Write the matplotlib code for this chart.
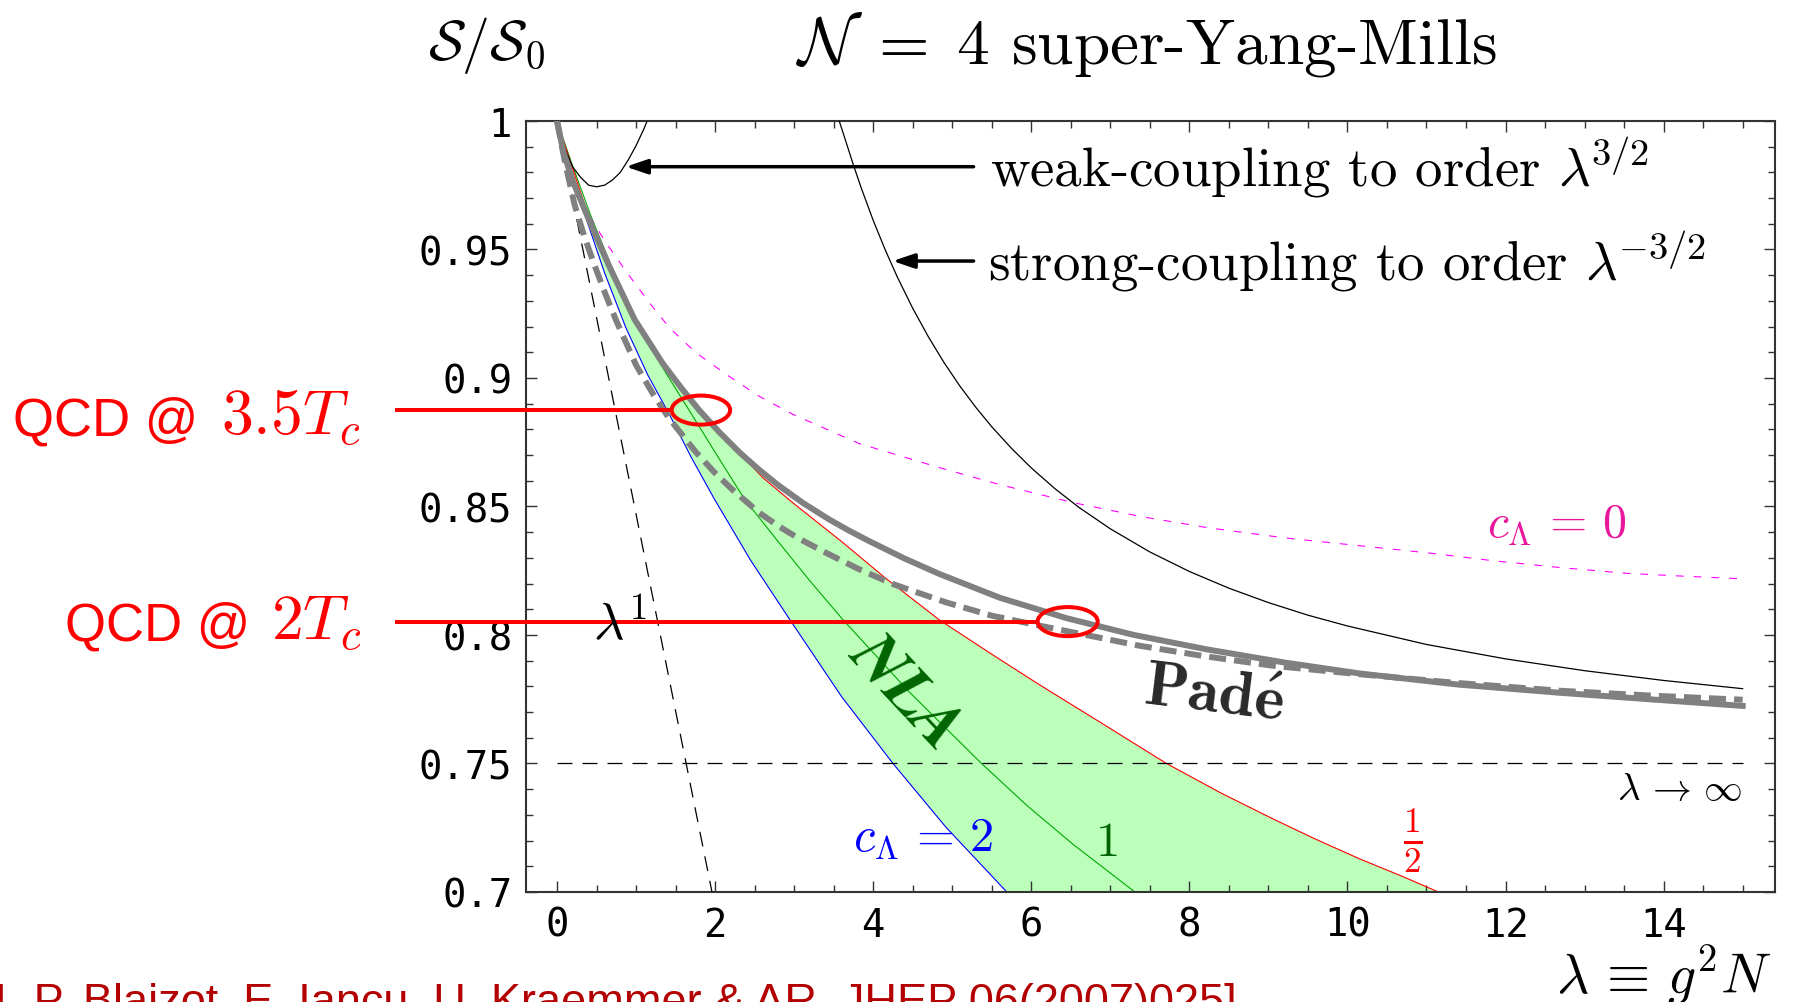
import numpy as np
import matplotlib.pyplot as plt
from matplotlib.patches import Ellipse
from matplotlib.ticker import MultipleLocator, FuncFormatter

plt.rcParams['mathtext.fontset'] = 'cm'
plt.rcParams['font.family'] = 'DejaVu Sans Mono'

# weak coupling expansion to order lambda^(3/2)
weak_x = [0, 0.1, 0.2, 0.3, 0.4, 0.5, 0.6, 0.7, 0.8, 0.9, 1.0, 1.1, 1.14]
weak_y = [1.0, 0.989, 0.982, 0.978, 0.975, 0.9744, 0.975, 0.977, 0.980, 0.9848, 0.9904, 0.997, 1.0]

# first order (lambda^1) straight line
lin_x = [0, 1.96]
lin_y = [1.0, 0.70]

# strong coupling expansion to order lambda^(-3/2)
strong_x = [3.57, 3.65, 3.75, 3.85, 4.0, 4.15, 4.3, 4.5, 4.7, 4.9, 5.1, 5.3, 5.5, 5.75, 6.0,
            6.3, 6.6, 7.0, 7.5, 8.0, 8.5, 9.0, 9.5, 10.0, 11.0, 12.0, 13.0, 14.0, 15.0]
strong_y = [1.0, 0.9924, 0.9828, 0.9738, 0.9613, 0.9500, 0.9396, 0.9271, 0.9159, 0.9058,
            0.8967, 0.8885, 0.8810, 0.8726, 0.8650, 0.8569, 0.8497, 0.8413, 0.8323, 0.8247,
            0.8182, 0.8126, 0.8077, 0.8035, 0.7963, 0.7907, 0.7861, 0.7823, 0.7791]

# Pade resummations (solid and dashed)
pade_x = [0, 0.08, 0.2, 0.39, 0.66, 0.98, 1.34, 1.57, 1.80, 2.05, 2.31, 2.56, 2.81, 3.12,
          3.44, 3.7, 3.95, 4.4, 4.84, 5.6, 6.45, 7.3, 8.22, 9.2, 10.16, 11.4, 12.69, 13.9, 15.0]
pade_y = [1.0, 0.988, 0.9765, 0.9625, 0.9435, 0.9228, 0.9055, 0.8962, 0.8874, 0.8790, 0.8710,
          0.8642, 0.8580, 0.8512, 0.8450, 0.8405, 0.8365, 0.8297, 0.8237, 0.8145, 0.8065,
          0.8000, 0.7944, 0.7893, 0.7850, 0.7807, 0.7775, 0.7748, 0.7724]
pade2_x = [0, 0.1, 0.22, 0.34, 0.47, 0.61, 0.75, 1.0, 1.21, 1.42, 1.76, 1.99, 2.22, 2.56,
           2.81, 3.06, 3.40, 3.82, 4.25, 4.92, 5.5, 6.11, 7.37, 8.2, 9.06, 10.16, 11.4,
           12.69, 13.85, 15.0]
pade2_y = [1.0, 0.984, 0.9676, 0.9555, 0.9442, 0.9328, 0.9222, 0.905, 0.8940, 0.8842, 0.8710,
           0.8633, 0.8565, 0.8475, 0.8422, 0.8375, 0.8320, 0.8256, 0.8198, 0.8127, 0.8075,
           0.8036, 0.7958, 0.7917, 0.7880, 0.7847, 0.7813, 0.7783, 0.7764, 0.7748]

# NLA with c_Lambda = 0
c0_x = [0.41, 0.6, 0.87, 1.15, 1.42, 1.75, 2.14, 2.55, 2.98, 3.82, 4.84, 5.6, 6.53, 7.4, 8.22,
        9.2, 10.16, 11.0, 11.84, 12.7, 13.53, 14.3, 15.04]
c0_y = [0.963, 0.9535, 0.9416, 0.930, 0.9196, 0.910, 0.9014, 0.893, 0.8859, 0.8745, 0.8651,
        0.8585, 0.8515, 0.846, 0.8418, 0.8378, 0.8347, 0.832, 0.8289, 0.8262, 0.8240,
        0.8228, 0.8218]

# NLA with c_Lambda = 2, 1, 1/2
c2_x = [0, 0.15, 0.35, 0.6, 0.87, 1.15, 1.42, 1.7, 1.99, 2.45, 2.94, 3.6, 4.25, 4.92, 5.69]
c2_y = [1.0, 0.984, 0.9637, 0.941, 0.9196, 0.901, 0.8859, 0.869, 0.8529, 0.829, 0.8062,
        0.776, 0.750, 0.7252, 0.700]
c1_x = [0, 0.18, 0.42, 0.72, 1.04, 1.38, 1.72, 2.05, 2.37, 2.79, 3.2, 3.61, 4.45, 5.37, 5.95,
        6.53, 7.31]
c1_y = [1.0, 0.984, 0.9637, 0.941, 0.9196, 0.9018, 0.8850, 0.8686, 0.8529, 0.8366, 0.8210,
        0.8062, 0.778, 0.750, 0.7335, 0.7185, 0.700]
ch_x = [0, 0.17, 0.39, 0.68, 1.03, 1.4, 1.80, 2.25, 2.6, 2.98, 3.59, 4.16, 4.84, 5.5, 6.11,
        6.9, 7.71, 8.4, 9.06, 9.6, 10.16, 10.7, 11.15]
ch_y = [1.0, 0.984, 0.9637, 0.941, 0.9196, 0.9025, 0.8874, 0.8725, 0.8613, 0.8515, 0.8366,
        0.8220, 0.8058, 0.7925, 0.7805, 0.7655, 0.750, 0.7385, 0.7284, 0.7205, 0.7128,
        0.706, 0.700]

# QCD points: (lambda, S/S0) and ring sizes
qcd_x = [1.82, 6.46]
qcd_y = [0.8875, 0.8052]
qcd_line_end = [1.455, 6.08]
qcd_w = [0.74, 0.76]
qcd_h = 0.0113

fig = plt.figure(figsize=(17.93, 10.03), dpi=100)
ax = fig.add_axes([0.2934, 0.1097, 0.6966, 0.7687])

ax.fill(ch_x + c2_x[::-1], ch_y + c2_y[::-1], color='#bbffbb', lw=0, zorder=1)
ax.plot(c2_x, c2_y, color='#0000ff', lw=0.8, zorder=2)
ax.plot(c1_x, c1_y, color='#00aa00', lw=0.8, zorder=2)
ax.plot(ch_x, ch_y, color='#ff0000', lw=0.8, zorder=2)
ax.plot(c0_x, c0_y, color='#ff00ff', lw=0.8, ls=(0, (7, 9)), zorder=2)

ax.plot(lin_x, lin_y, color='black', lw=0.9, ls=(0, (12, 8)), zorder=3)
ax.plot([0, 15], [0.75, 0.75], color='black', lw=0.9, ls=(0, (12, 8)), zorder=3)
ax.plot(weak_x, weak_y, color='black', lw=0.9, zorder=3)
ax.plot(strong_x, strong_y, color='black', lw=0.9, zorder=3)

ax.plot(pade2_x, pade2_y, color='#808080', lw=4.3, ls=(0, (2.85, 1.35)), zorder=4)
ax.plot(pade_x, pade_y, color='#808080', lw=4.3, zorder=4)

# QCD markers, lines run out into the left margin
for i in range(2):
    ax.plot([-2.05, qcd_line_end[i]], [qcd_y[i], qcd_y[i]], color='red', lw=2.9,
            clip_on=False, solid_capstyle='butt', zorder=6)
    ax.add_patch(Ellipse((qcd_x[i], qcd_y[i]), qcd_w[i], qcd_h, fill=False,
                         ec='red', lw=2.9, zorder=6))

arrow = dict(arrowstyle='-|>,head_length=0.65,head_width=0.22', lw=2.5, color='black',
             mutation_scale=20, shrinkA=0, shrinkB=0)
ax.annotate('', xy=(0.87, 0.9822), xytext=(5.27, 0.9822), arrowprops=arrow)
ax.annotate('', xy=(4.246, 0.9455), xytext=(5.27, 0.9455), arrowprops=arrow)
ax.text(5.48, 0.9747, r'weak-coupling to order $\lambda^{\!3/2}$', family='cmr10',
        fontsize=39.5, ha='left', va='baseline')
ax.text(5.45, 0.9385, r'strong-coupling to order $\lambda^{\!{-}3/2}$', family='cmr10',
        fontsize=39.5, ha='left', va='baseline')

ax.text(0.45, 0.7984, r'$\lambda^1$', fontsize=38, ha='left', va='baseline', zorder=7)
ax.text(4.41, 0.778, 'NLA', family='STIXGeneral', style='italic', weight='bold',
        fontsize=48, color='#006400', rotation=-47, ha='center', va='center',
        rotation_mode='anchor')
ax.text(8.31, 0.777, r'$\mathbf{Pad\acute{e}}$', fontsize=46, color='#2a2a2a', rotation=-7,
        ha='center', va='center', rotation_mode='anchor')
ax.text(11.76, 0.838, r'$c_\Lambda\,=\,0$', fontsize=34.5, color='#e8179b', ha='left',
        va='baseline')
ax.text(3.74, 0.716, r'$c_\Lambda\,=\,2$', fontsize=35, color='#0000ff', ha='left',
        va='baseline')
ax.text(6.95, 0.7144, r'$1$', fontsize=35, color='#006400', ha='center', va='baseline')
ax.text(10.83, 0.7204, r'$\frac{1}{2}$', fontsize=36, color='#ff0000', ha='center',
        va='center')
ax.text(15.0, 0.7362, r'$\lambda\,\rightarrow\,\infty$', fontsize=28, ha='right',
        va='baseline')

ax.set_xlim(-0.392, 15.41)
ax.set_ylim(0.7, 1.0)
ax.xaxis.set_major_locator(MultipleLocator(2))
ax.xaxis.set_minor_locator(MultipleLocator(0.5))
ax.yaxis.set_major_locator(MultipleLocator(0.05))
ax.yaxis.set_minor_locator(MultipleLocator(0.01))
ax.yaxis.set_major_formatter(FuncFormatter(lambda v, p: f'{v:g}'))
ax.xaxis.set_major_formatter(FuncFormatter(lambda v, p: f'{v:g}'))
ax.tick_params(which='both', direction='in', top=True, right=True, color='#333333',
               width=1.0, labelsize=28, pad=10)
ax.tick_params(which='major', length=8)
ax.tick_params(which='minor', length=5)
for s in ax.spines.values():
    s.set_color('#333333')
    s.set_linewidth(1.5)

fig.text(0.6394, 0.937, r'$\mathcal{N}\;=\;4$ super-Yang-Mills', family='cmr10',
         fontsize=47, ha='center', va='baseline')
fig.text(0.2713, 0.940, r'$\mathcal{S}/\mathcal{S}_0$', fontsize=40, ha='center',
         va='baseline')
fig.text(0.988, 0.010, r'$\lambda\,\equiv\,g^2N$', fontsize=40, ha='right', va='baseline')

fig.text(198 / 1793, 0.5657, 'QCD @', family='Liberation Sans', fontsize=38, color='red',
         ha='right', va='baseline')
fig.text(361 / 1793, 0.5657, r'$3.5T_c$', fontsize=46, color='red', ha='right',
         va='baseline')
fig.text(250 / 1793, 0.3619, 'QCD @', family='Liberation Sans', fontsize=38, color='red',
         ha='right', va='baseline')
fig.text(361 / 1793, 0.3619, r'$2T_c$', fontsize=46, color='red', ha='right',
         va='baseline')

fig.text(-0.016, -0.012, '[J.-P. Blaizot, E. Iancu, U. Kraemmer & AR, JHEP 06(2007)025]',
         family='Liberation Sans', fontsize=32.5, color='#b30000', ha='left', va='baseline')

fig.savefig('out.png', dpi=100)
